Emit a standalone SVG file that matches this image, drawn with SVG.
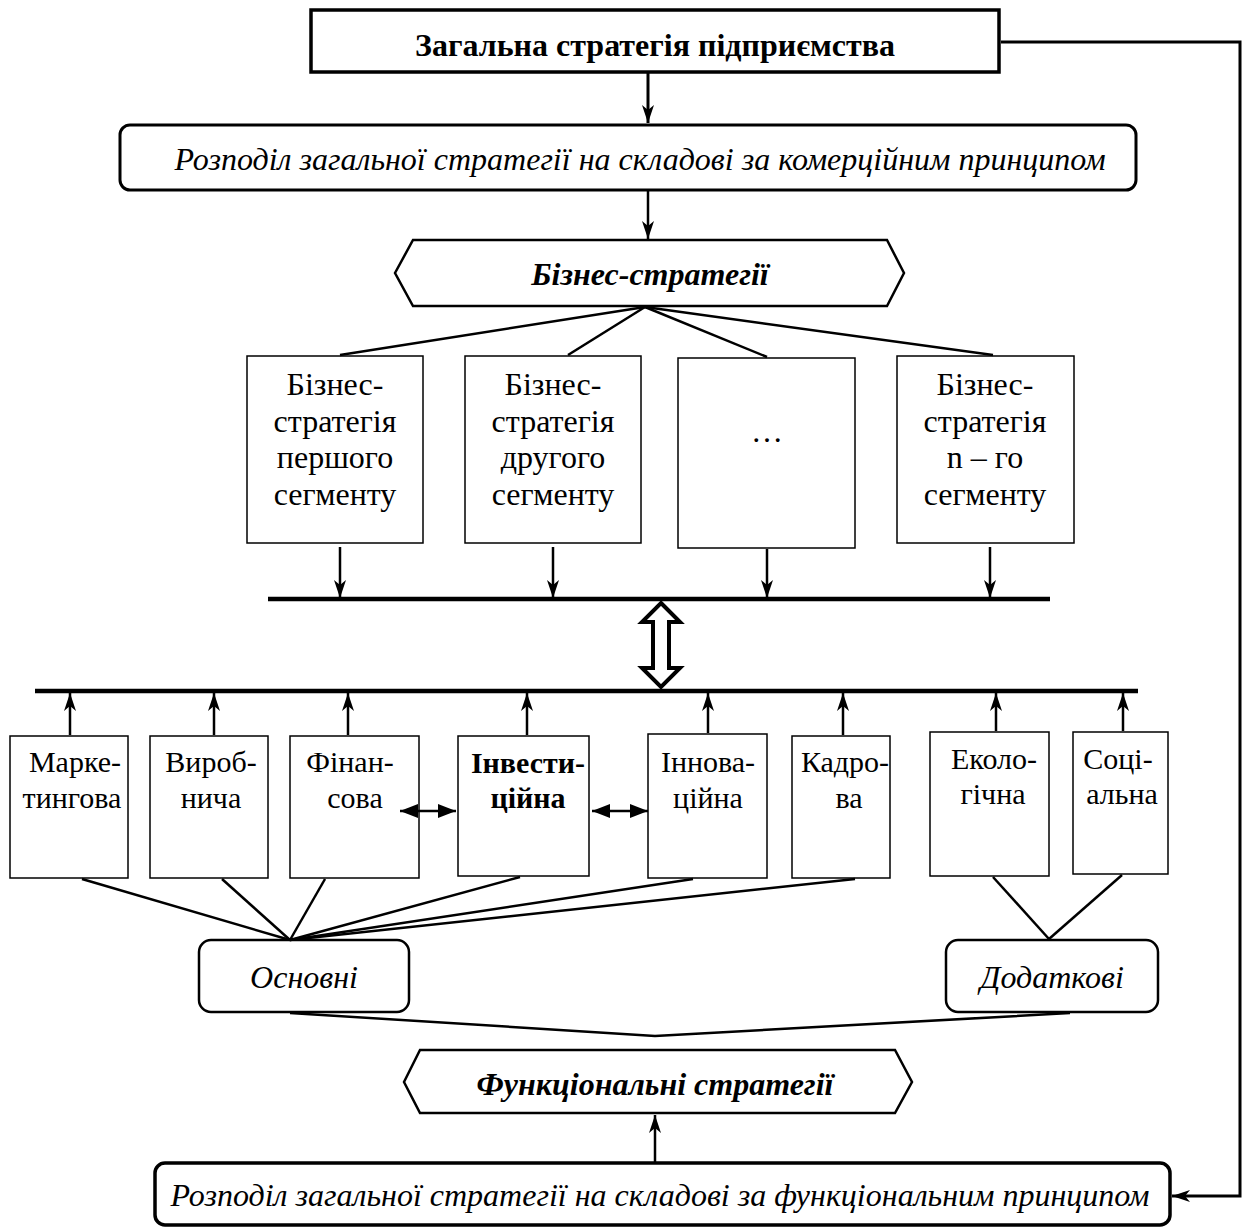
<svg xmlns="http://www.w3.org/2000/svg" width="1245" height="1231" viewBox="0 0 1245 1231">
<style>
.t{font-family:"Liberation Serif","Times New Roman",serif;font-size:32px;fill:#000;text-anchor:middle}
.f{font-size:30px}
.b{font-weight:bold}
.i{font-style:italic}
.box{fill:#fff;stroke:#000;stroke-width:1.5}
.thick{fill:#fff;stroke:#000;stroke-width:3.5}
.ln{fill:none;stroke:#000;stroke-width:2.5}
.bus{fill:none;stroke:#000;stroke-width:4.5}
</style>
<defs>
<marker id="ah" viewBox="0 0 18 12" refX="18" refY="6" markerWidth="18" markerHeight="12" markerUnits="userSpaceOnUse" orient="auto-start-reverse">
<path d="M0,0 L18,6 L0,12 L5,6 z" fill="#000"/>
</marker>
<marker id="ah2" viewBox="0 0 18 14" refX="18" refY="7" markerWidth="18" markerHeight="14" markerUnits="userSpaceOnUse" orient="auto-start-reverse">
<path d="M0,0 L18,7 L0,14 z" fill="#000"/>
</marker>
</defs>

<g id="n-top">
<rect class="thick" x="311" y="10" width="688" height="62"/>
<text class="t b" x="655" y="56">Загальна стратегія підприємства</text>
</g>
<g id="n-commercial">
<rect class="thick" x="120" y="125" width="1016" height="65" rx="10" style="stroke-width:3"/>
<text class="t i" x="640" y="170">Розподіл загальної стратегії на складові за комерційним принципом</text>
</g>
<g id="n-business">
<polygon class="thick" points="395,273 413,240 887,240 904,273 887,306 413,306" style="stroke-width:2.5"/>
<text class="t b i" x="650" y="285">Бізнес-стратегії</text>
</g>
<g id="n-bs1">
<rect class="box" x="247" y="356" width="176" height="187"/>
<text class="t" x="335" y="395">Бізнес-</text>
<text class="t" x="335" y="432">стратегія</text>
<text class="t" x="335" y="468">першого</text>
<text class="t" x="335" y="505">сегменту</text>
</g>
<g id="n-bs2">
<rect class="box" x="465" y="356" width="176" height="187"/>
<text class="t" x="553" y="395">Бізнес-</text>
<text class="t" x="553" y="432">стратегія</text>
<text class="t" x="553" y="468">другого</text>
<text class="t" x="553" y="505">сегменту</text>
</g>
<g id="n-bs3">
<rect class="box" x="678" y="358" width="177" height="190"/>
<text class="t" x="767" y="442">…</text>
</g>
<g id="n-bs4">
<rect class="box" x="897" y="356" width="177" height="187"/>
<text class="t" x="985" y="395">Бізнес-</text>
<text class="t" x="985" y="432">стратегія</text>
<text class="t" x="985" y="468">n – го</text>
<text class="t" x="985" y="505">сегменту</text>
</g>
<g id="n-marketing">
<rect class="box" x="10" y="736" width="118" height="142"/>
<text class="t f" x="75" y="772">Марке-</text>
<text class="t f" x="72" y="808">тингова</text>
</g>
<g id="n-production">
<rect class="box" x="150" y="736" width="118" height="142"/>
<text class="t f" x="211" y="772">Вироб-</text>
<text class="t f" x="211" y="808">нича</text>
</g>
<g id="n-finance">
<rect class="box" x="290" y="736" width="129" height="142"/>
<text class="t f" x="350" y="772">Фінан-</text>
<text class="t f" x="355" y="808">сова</text>
</g>
<g id="n-invest">
<rect class="box" x="458" y="736" width="131" height="140"/>
<text class="t f b" x="528" y="773">Інвести-</text>
<text class="t f b" x="528" y="808">ційна</text>
</g>
<g id="n-innov">
<rect class="box" x="648" y="734" width="119" height="144"/>
<text class="t f" x="708" y="772">Іннова-</text>
<text class="t f" x="708" y="808">ційна</text>
</g>
<g id="n-hr">
<rect class="box" x="792" y="736" width="98" height="142"/>
<text class="t f" x="845" y="772">Кадро-</text>
<text class="t f" x="849" y="808">ва</text>
</g>
<g id="n-eco">
<rect class="box" x="930" y="732" width="119" height="144"/>
<text class="t f" x="994" y="769">Еколо-</text>
<text class="t f" x="993" y="804">гічна</text>
</g>
<g id="n-social">
<rect class="box" x="1073" y="732" width="95" height="142"/>
<text class="t f" x="1118" y="769">Соці-</text>
<text class="t f" x="1122" y="804">альна</text>
</g>
<g id="n-main">
<rect class="thick" x="199" y="940" width="210" height="72" rx="12" style="stroke-width:2.5"/>
<text class="t i" x="304" y="988">Основні</text>
</g>
<g id="n-additional">
<rect class="thick" x="946" y="940" width="212" height="72" rx="12" style="stroke-width:2.5"/>
<text class="t i" x="1052" y="988">Додаткові</text>
</g>
<g id="n-functional">
<polygon class="thick" points="404,1082 420,1050 895,1050 912,1082 895,1113 420,1113" style="stroke-width:2.5"/>
<text class="t b i" x="655" y="1095">Функціональні стратегії</text>
</g>
<g id="n-functional-split">
<rect class="thick" x="155" y="1163" width="1015" height="62" rx="10"/>
<text class="t i" x="660" y="1206">Розподіл загальної стратегії на складові за функціональним принципом</text>
</g>

<g id="connectors">
<line class="ln" x1="648" y1="73" x2="648" y2="123" marker-end="url(#ah)" style="stroke-width:3"/>
<line class="ln" x1="648" y1="191" x2="648" y2="239" marker-end="url(#ah)"/>
<polyline class="ln" points="1001,42 1240,42 1240,1196 1172,1196" marker-end="url(#ah)" style="stroke-width:3"/>
<line class="ln" x1="645" y1="307" x2="340" y2="355"/>
<line class="ln" x1="645" y1="307" x2="568" y2="355"/>
<line class="ln" x1="645" y1="307" x2="767" y2="357"/>
<line class="ln" x1="645" y1="307" x2="993" y2="355"/>
<line class="ln" x1="340" y1="547" x2="340" y2="598" marker-end="url(#ah)"/>
<line class="ln" x1="553" y1="547" x2="553" y2="598" marker-end="url(#ah)"/>
<line class="ln" x1="767" y1="549" x2="767" y2="598" marker-end="url(#ah)"/>
<line class="ln" x1="990" y1="547" x2="990" y2="598" marker-end="url(#ah)"/>
<line class="bus" x1="268" y1="599" x2="1050" y2="599"/>
<line class="bus" x1="35" y1="691" x2="1138" y2="691"/>
<path d="M661,603 L680,622 L669,622 L669,668 L680,668 L661,687 L642,668 L653,668 L653,622 L642,622 Z" fill="#fff" stroke="#000" stroke-width="4" stroke-linejoin="miter"/>
<line class="ln" x1="70" y1="735" x2="70" y2="693" marker-end="url(#ah)"/>
<line class="ln" x1="214" y1="735" x2="214" y2="693" marker-end="url(#ah)"/>
<line class="ln" x1="348" y1="735" x2="348" y2="693" marker-end="url(#ah)"/>
<line class="ln" x1="527" y1="735" x2="527" y2="693" marker-end="url(#ah)"/>
<line class="ln" x1="708" y1="733" x2="708" y2="693" marker-end="url(#ah)"/>
<line class="ln" x1="843" y1="735" x2="843" y2="693" marker-end="url(#ah)"/>
<line class="ln" x1="996" y1="731" x2="996" y2="693" marker-end="url(#ah)"/>
<line class="ln" x1="1123" y1="731" x2="1123" y2="693" marker-end="url(#ah)"/>
<line class="ln" x1="400" y1="811" x2="456" y2="811" marker-start="url(#ah2)" marker-end="url(#ah2)"/>
<line class="ln" x1="592" y1="811" x2="648" y2="811" marker-start="url(#ah2)" marker-end="url(#ah2)"/>
<line class="ln" x1="82" y1="879" x2="290" y2="940"/>
<line class="ln" x1="222" y1="879" x2="290" y2="940"/>
<line class="ln" x1="325" y1="879" x2="290" y2="940"/>
<line class="ln" x1="520" y1="877" x2="290" y2="940"/>
<line class="ln" x1="693" y1="879" x2="290" y2="940"/>
<line class="ln" x1="855" y1="879" x2="290" y2="940"/>
<line class="ln" x1="993" y1="877" x2="1049" y2="939"/>
<line class="ln" x1="1122" y1="875" x2="1049" y2="939"/>
<polyline class="ln" points="290,1013 655,1036 1070,1013"/>
<line class="ln" x1="655" y1="1162" x2="655" y2="1115" marker-end="url(#ah)"/>
</g>
</svg>
